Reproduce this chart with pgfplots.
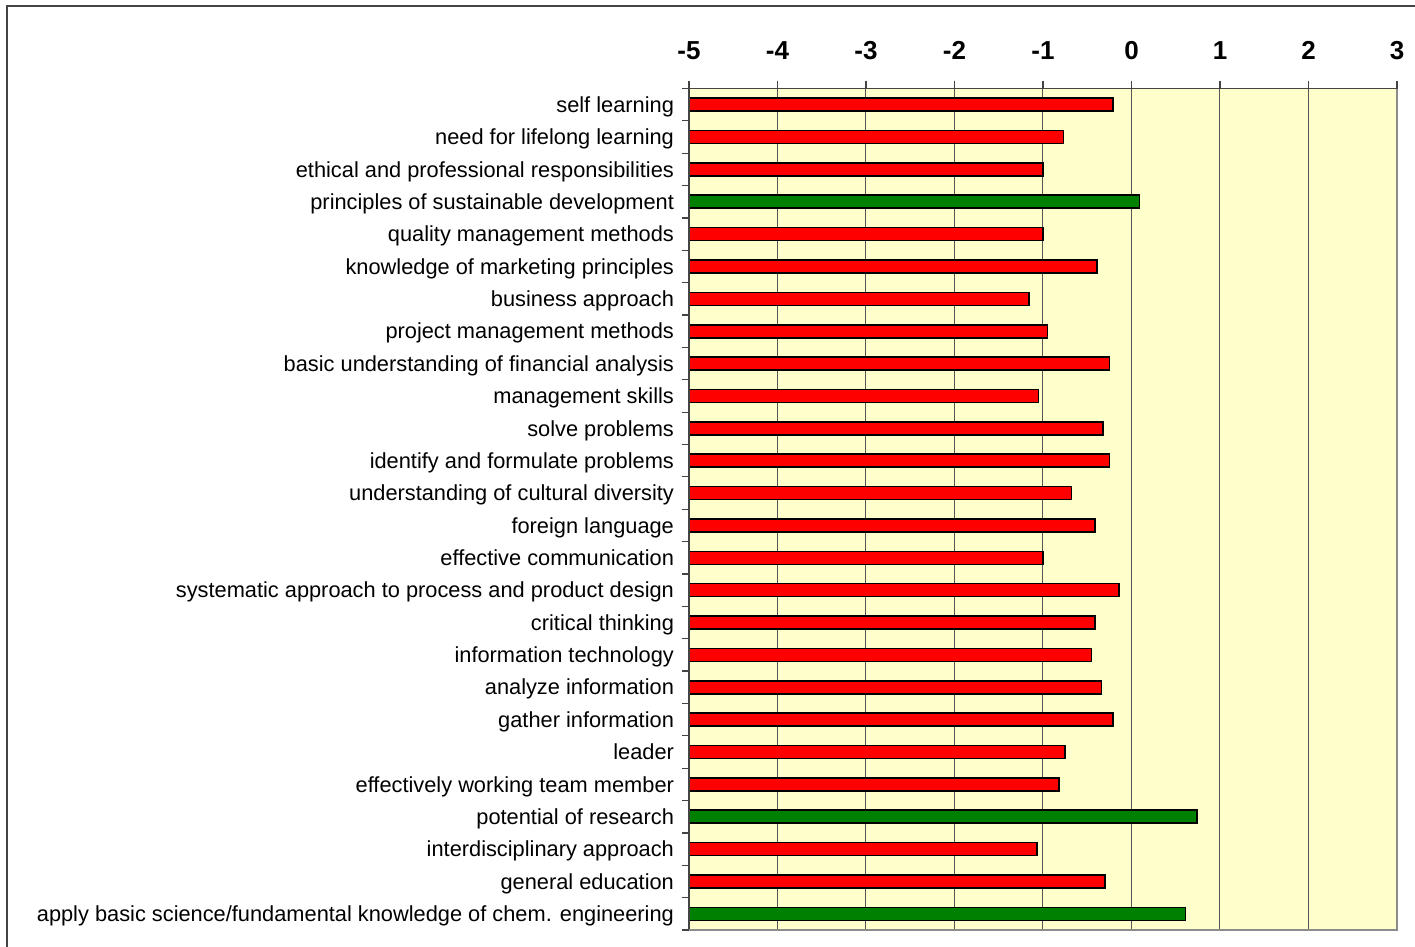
\documentclass[border=0pt]{standalone}
\usepackage{fontspec}
\setmainfont{Liberation Sans}
\usepackage{pgfplots}
\usepackage{pgfplotstable}
\pgfplotsset{compat=1.18}
\definecolor{bgy}{HTML}{FFFFCC}
\definecolor{barred}{HTML}{FF0000}
\definecolor{bargreen}{HTML}{008000}
\definecolor{gridc}{HTML}{555555}
\definecolor{framec}{HTML}{444444}

% i = category position from top, v = value
\pgfplotstableread{
i v
1 -0.21
2 -0.77
3 -1.00
5 -1.00
6 -0.39
7 -1.16
8 -0.95
9 -0.25
10 -1.05
11 -0.32
12 -0.25
13 -0.68
14 -0.41
15 -1.00
16 -0.14
17 -0.41
18 -0.45
19 -0.34
20 -0.21
21 -0.75
22 -0.82
24 -1.07
25 -0.30
}\redtable
\pgfplotstableread{
i v
4 0.09
23 0.74
26 0.61
}\greentable

\begin{document}
\begin{tikzpicture}
\useasboundingbox (0,0) rectangle (707.5pt,473.5pt);
\fill[white] (0,0) rectangle (707.5pt,473.5pt);
\draw[line width=1pt, color=framec] (3.5pt,-10pt) -- (3.5pt,470.5pt) -- (720pt,470.5pt);
\begin{axis}[
  at={(344.5pt,8.5pt)}, anchor=south west,
  scale only axis, width=354pt, height=420.75pt,
  xmin=0, xmax=8, ymin=0.5, ymax=26.5, y dir=reverse,
  axis background/.style={fill=bgy},
  axis line style={draw=none},
  xtick={0,1,...,8},
  xticklabels={-5,-4,-3,-2,-1,0,1,2,3},
  xtick pos=right, xticklabel pos=right,
  xticklabel style={font=\fontsize{13}{15}\selectfont\bfseries, yshift=7pt},
  major x tick style={color=framec, line width=0.6pt},
  xmajorgrids, x grid style={color=gridc, line width=0.5pt},
  tick align=outside, major tick length=4pt,
  ytick={1,...,26},
  yticklabels={self learning, need for lifelong learning, ethical and professional responsibilities, principles of sustainable development, quality management methods, knowledge of marketing principles, business approach, project management methods, basic understanding of financial analysis, management skills, solve problems, identify and formulate problems, understanding of cultural diversity, foreign language, effective communication, systematic approach to process and product design, critical thinking, information technology, analyze information, gather information, leader, effectively working team member, potential of research, interdisciplinary approach, general education, apply basic science/fundamental knowledge of chem. engineering},
  ytick pos=left,
  major y tick style={draw=none},
  minor ytick={0.5,1.5,...,26.5},
  minor y tick style={color=framec, line width=0.6pt},
  minor tick length=3.5pt,
  yticklabel style={font=\fontsize{10.9}{12}\selectfont, anchor=east, text height=1.6ex, text depth=0.45ex, yshift=-0.8pt},
  xbar, bar width=6.5pt, bar shift=0pt,
  clip=false,
]
\addplot[fill=barred, draw=black, line width=0.8pt] table[x expr=\thisrow{v}+5, y=i] {\redtable};
\addplot[fill=bargreen, draw=black, line width=0.8pt] table[x expr=\thisrow{v}+5, y=i] {\greentable};
\draw[framec, line width=0.75pt] (rel axis cs:0,0) -- (rel axis cs:0,1) -- (rel axis cs:1,1);
\draw[black!45, line width=1pt] (rel axis cs:0,0) -- (rel axis cs:1,0) -- (rel axis cs:1,1);
\end{axis}
\end{tikzpicture}
\end{document}
